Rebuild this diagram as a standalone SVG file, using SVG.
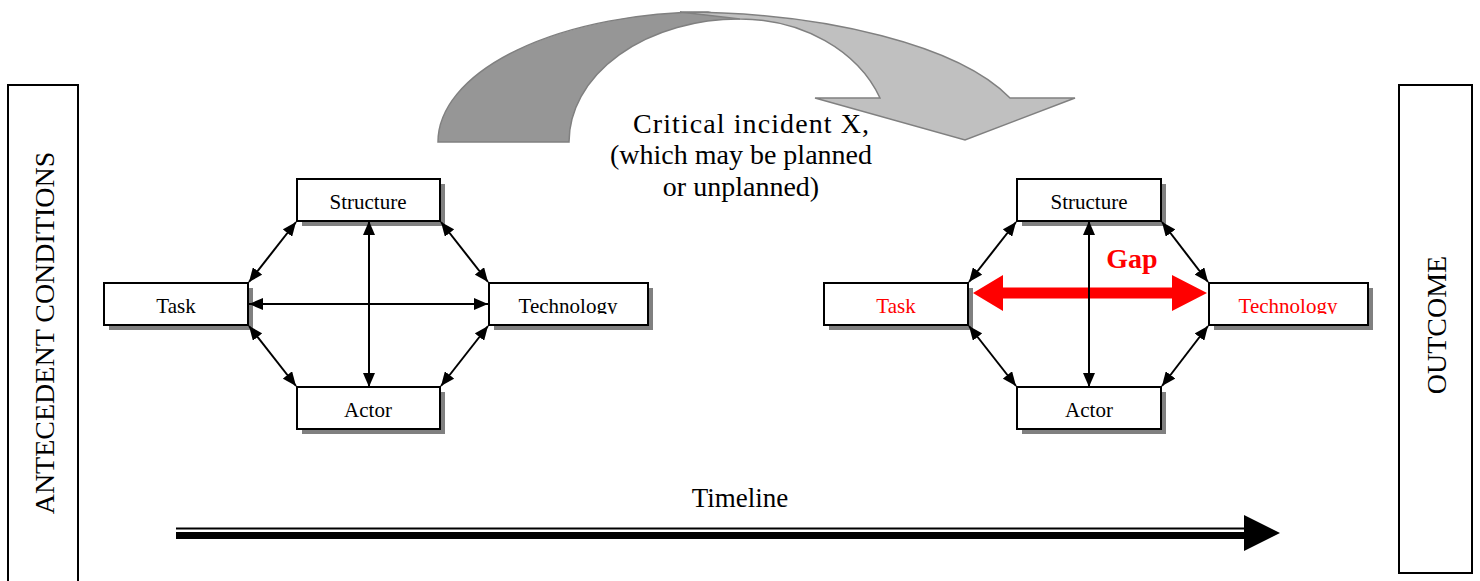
<svg xmlns="http://www.w3.org/2000/svg" width="1480" height="581" viewBox="0 0 1480 581">
  <style>
    .t { font-family: "Liberation Serif", "Times New Roman", serif; fill: #000; }
    .box { fill: #fff; stroke: #000; stroke-width: 2; }
    .shadow { fill: #808080; }
    .lbl { font-size: 21px; text-anchor: middle; }
    .red { fill: #ff0000; }
    .conn { stroke: #000; stroke-width: 2; fill: none; marker-start: url(#ah); marker-end: url(#ah); }
  </style>
  <defs>
    <marker id="ah" markerUnits="userSpaceOnUse" viewBox="0 0 14 12" markerWidth="14" markerHeight="12" refX="14" refY="6" orient="auto-start-reverse">
      <path d="M0,0 L14,6 L0,12 z" fill="#000"/>
    </marker>
    <clipPath id="clipL"><rect x="489" y="283" width="159" height="31"/></clipPath>
    <clipPath id="clipR"><rect x="1209" y="283" width="159" height="31"/></clipPath>
  </defs>

  <rect width="1480" height="581" fill="#fff"/>

  <!-- side boxes -->
  <g id="antecedent">
    <rect x="8" y="85" width="70" height="505" fill="#fff" stroke="#000" stroke-width="2"/>
    <text class="t" font-size="28" text-anchor="middle" transform="translate(54,333) rotate(-90)">ANTECEDENT CONDITIONS</text>
  </g>
  <g id="outcome">
    <rect x="1399" y="85" width="73" height="488" fill="#fff" stroke="#000" stroke-width="2"/>
    <text class="t" font-size="28" text-anchor="middle" transform="translate(1446,325) rotate(-90)">OUTCOME</text>
  </g>

  <!-- curved arrow -->
  <g id="critical-incident">
    <path d="M438,142 A270,130 0 0 1 708,12 L740,19 A170,123 0 0 0 569,142 Z" fill="#969696" stroke="#808080" stroke-width="1.5"/>
    <path d="M680,12 A352,130 0 0 1 1010,98 L1075,98 L965,140 L815,98 L880,98 A150,123 0 0 0 740,19 Z" fill="#c0c0c0" stroke="#808080" stroke-width="1.5"/>
    <text class="t" font-size="28" text-anchor="middle" x="751" y="133" textLength="236" lengthAdjust="spacing">Critical incident X,</text>
    <text class="t" font-size="28" text-anchor="middle" x="741" y="164">(which may be planned</text>
    <text class="t" font-size="28" text-anchor="middle" x="741" y="196">or unplanned)</text>
  </g>

  <!-- left group nodes -->
  <g id="L-structure">
    <rect class="shadow" x="302" y="184" width="143" height="42"/>
    <rect class="box" x="297" y="179" width="143" height="42"/>
    <text class="t lbl" x="368" y="209">Structure</text>
  </g>
  <g id="L-task">
    <rect class="shadow" x="109" y="288" width="144" height="42"/>
    <rect class="box" x="104" y="283" width="144" height="42"/>
    <text class="t lbl" x="176" y="313">Task</text>
  </g>
  <g id="L-technology">
    <rect class="shadow" x="494" y="288" width="159" height="42"/>
    <rect class="box" x="489" y="283" width="159" height="42"/>
    <text class="t lbl" x="568" y="313" clip-path="url(#clipL)">Technology</text>
  </g>
  <g id="L-actor">
    <rect class="shadow" x="302" y="392" width="143" height="42"/>
    <rect class="box" x="297" y="387" width="143" height="42"/>
    <text class="t lbl" x="368" y="417">Actor</text>
  </g>

  <!-- right group nodes -->
  <g id="R-structure">
    <rect class="shadow" x="1022" y="184" width="144" height="42"/>
    <rect class="box" x="1017" y="179" width="144" height="42"/>
    <text class="t lbl" x="1089" y="209">Structure</text>
  </g>
  <g id="R-task">
    <rect class="shadow" x="829" y="288" width="144" height="42"/>
    <rect class="box" x="824" y="283" width="144" height="42"/>
    <text class="t lbl red" x="896" y="313">Task</text>
  </g>
  <g id="R-technology">
    <rect class="shadow" x="1214" y="288" width="159" height="42"/>
    <rect class="box" x="1209" y="283" width="159" height="42"/>
    <text class="t lbl red" x="1288" y="313" clip-path="url(#clipR)">Technology</text>
  </g>
  <g id="R-actor">
    <rect class="shadow" x="1022" y="392" width="144" height="42"/>
    <rect class="box" x="1017" y="387" width="144" height="42"/>
    <text class="t lbl" x="1089" y="417">Actor</text>
  </g>

  <!-- connectors -->
  <g id="connectors">
    <line class="conn" x1="296" y1="222" x2="249" y2="282"/>
    <line class="conn" x1="441" y1="222" x2="488" y2="282"/>
    <line class="conn" x1="249" y1="326" x2="296" y2="386"/>
    <line class="conn" x1="488" y1="326" x2="441" y2="386"/>
    <line class="conn" x1="369" y1="221" x2="369" y2="387"/>
    <line class="conn" x1="249" y1="304" x2="488" y2="304"/>

    <line class="conn" x1="1016" y1="222" x2="969" y2="282"/>
    <line class="conn" x1="1162" y1="222" x2="1208" y2="282"/>
    <line class="conn" x1="969" y1="326" x2="1016" y2="386"/>
    <line class="conn" x1="1208" y1="326" x2="1162" y2="386"/>
    <polygon class="red" points="973,293 1003,275 1003,287.5 1172,287.5 1172,275 1207,293 1172,311 1172,298.5 1003,298.5 1003,311"/>
    <line class="conn" x1="1089" y1="221" x2="1089" y2="387"/>
    <text class="t red" font-size="28" font-weight="bold" text-anchor="middle" x="1132" y="268">Gap</text>

    <g id="timeline">
      <rect x="176" y="527.5" width="1070" height="2" fill="#000"/>
      <rect x="176" y="532" width="1070" height="7" fill="#000"/>
      <polygon points="1244,515 1280,533 1244,551" fill="#000"/>
      <text class="t" font-size="27" text-anchor="middle" x="740" y="507">Timeline</text>
    </g>
  </g>
</svg>
